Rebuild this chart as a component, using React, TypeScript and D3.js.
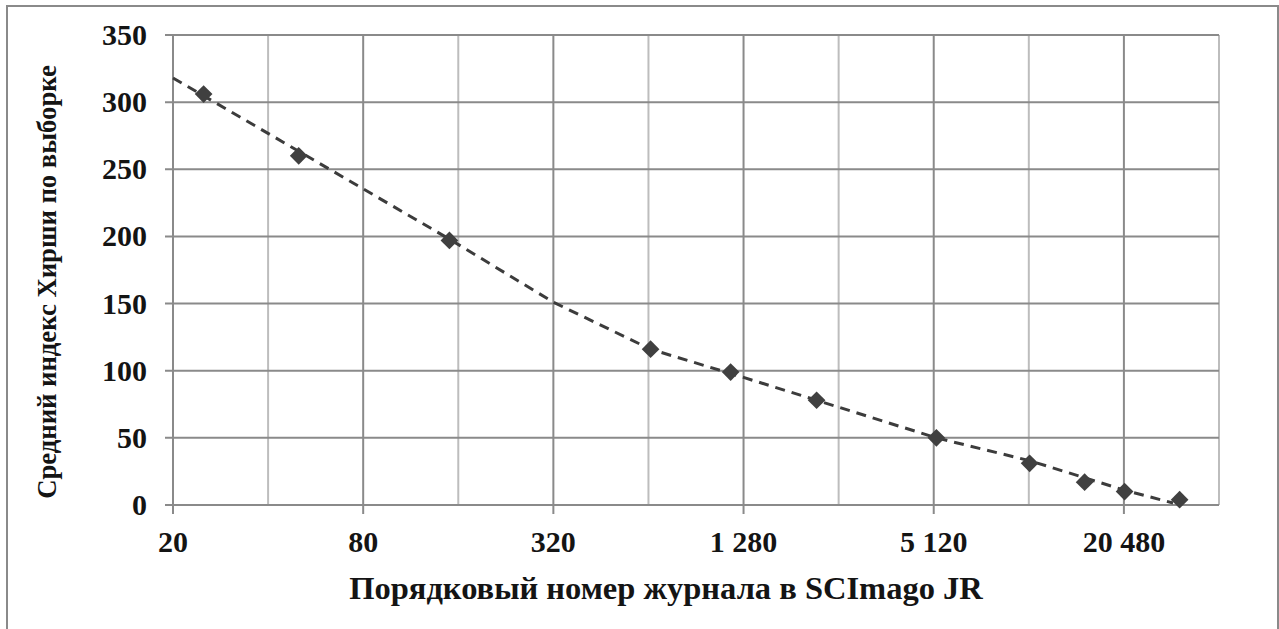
import React, { useEffect, useRef } from 'react';
import * as d3 from 'd3';

// 실측 데이터 (SCImago JR 순위 vs 평균 Hirsch 지수)
const rankValues = [25, 50, 150, 650, 1165, 2180, 5220, 10300, 15380, 20580, 30740];
const hirschValues = [306, 260, 197, 116, 99, 78, 50, 31, 17, 10, 4];

// 점선 추세선
const trendRanks = [20, 150, 320, 650, 1280, 2180, 5220, 10300, 20580, 29300];
const trendValues = [318, 198, 151, 116, 95, 78, 50, 33, 11, 1.5];

const xTickValues = [20, 80, 320, 1280, 5120, 20480];
const xMinorValues = [40, 160, 640, 2560, 10240, 40960];
const yTickValues = [0, 50, 100, 150, 200, 250, 300, 350];

const yTitle = 'Средний индекс Хирши по выборке';
const xTitle = 'Порядковый номер журнала в SCImago JR';

const HirschChart: React.FC = () => {
  const svgRef = useRef<SVGSVGElement | null>(null);

  useEffect(() => {
    if (!svgRef.current) return;
    const width = 1279;
    const height = 629;
    const left = 173;
    const right = 1219;
    const top = 35;
    const bottom = 505;
    const font = '"Liberation Serif", "Times New Roman", serif';

    const svg = d3.select(svgRef.current).attr('viewBox', `0 0 ${width} ${height}`);
    svg.selectAll('*').remove();

    const x = d3.scaleLog().base(2).domain([20, 40960]).range([left, right]);
    const y = d3.scaleLinear().domain([0, 350]).range([bottom, top]);

    svg.append('rect').attr('width', width).attr('height', height).attr('fill', '#fff');

    // 외곽 테두리
    svg.append('rect')
      .attr('x', 7).attr('y', 6).attr('width', 1271).attr('height', 700)
      .attr('fill', 'none').attr('stroke', '#8a8a8a').attr('stroke-width', 2);

    // 보조 세로 격자
    svg.append('g').selectAll('line').data(xMinorValues).join('line')
      .attr('x1', d => x(d)).attr('x2', d => x(d))
      .attr('y1', top).attr('y2', bottom)
      .attr('stroke', '#bdbdbd').attr('stroke-width', 2);

    // 주 세로 격자 + 눈금
    svg.append('g').selectAll('line').data(xTickValues).join('line')
      .attr('x1', d => x(d)).attr('x2', d => x(d))
      .attr('y1', top).attr('y2', bottom + 9)
      .attr('stroke', '#8a8a8a').attr('stroke-width', 2);

    // 가로 격자
    svg.append('g').selectAll('line').data(yTickValues).join('line')
      .attr('x1', left - 8).attr('x2', right)
      .attr('y1', d => y(d)).attr('y2', d => y(d))
      .attr('stroke', '#8a8a8a').attr('stroke-width', 2);

    // 축 라벨
    svg.append('g').selectAll('text').data(yTickValues).join('text')
      .attr('x', 147).attr('y', d => y(d) + 10)
      .attr('text-anchor', 'end')
      .attr('font-family', font).attr('font-weight', 'bold').attr('font-size', 30)
      .attr('fill', '#141414')
      .text(d => String(d));

    svg.append('g').selectAll('text').data(xTickValues).join('text')
      .attr('x', d => x(d)).attr('y', 552)
      .attr('text-anchor', 'middle')
      .attr('font-family', font).attr('font-weight', 'bold').attr('font-size', 30)
      .attr('fill', '#141414')
      .text(d => d3.format(',')(d).replace(/,/g, ' '));

    // 추세선
    const line = d3.line<number>()
      .x((_, i) => x(trendRanks[i]))
      .y(d => y(d));
    svg.append('path')
      .attr('d', line(trendValues))
      .attr('fill', 'none')
      .attr('stroke', '#3c3c3c')
      .attr('stroke-width', 3)
      .attr('stroke-dasharray', '10,7');

    // 마커 (다이아몬드)
    svg.append('g').selectAll('path').data(hirschValues).join('path')
      .attr('d', d3.symbol().type(d3.symbolDiamond2).size(200))
      .attr('transform', (d, i) => `translate(${x(rankValues[i])},${y(d)})`)
      .attr('fill', '#404040');

    // 축 제목
    svg.append('text')
      .attr('x', 666).attr('y', 599)
      .attr('text-anchor', 'middle')
      .attr('font-family', font).attr('font-weight', 'bold').attr('font-size', 32.5)
      .attr('fill', '#141414')
      .text(xTitle);

    svg.append('text')
      .attr('transform', 'translate(56,282) rotate(-90)')
      .attr('text-anchor', 'middle')
      .attr('font-family', font).attr('font-weight', 'bold').attr('font-size', 26.7)
      .attr('fill', '#141414')
      .text(yTitle);
  }, []);

  return (
    <svg
      ref={svgRef}
      width={1279}
      height={629}
      style={{ position: 'absolute', left: 0, top: 0, display: 'block' }}
    />
  );
};

export default function App() {
  return <HirschChart />;
}
